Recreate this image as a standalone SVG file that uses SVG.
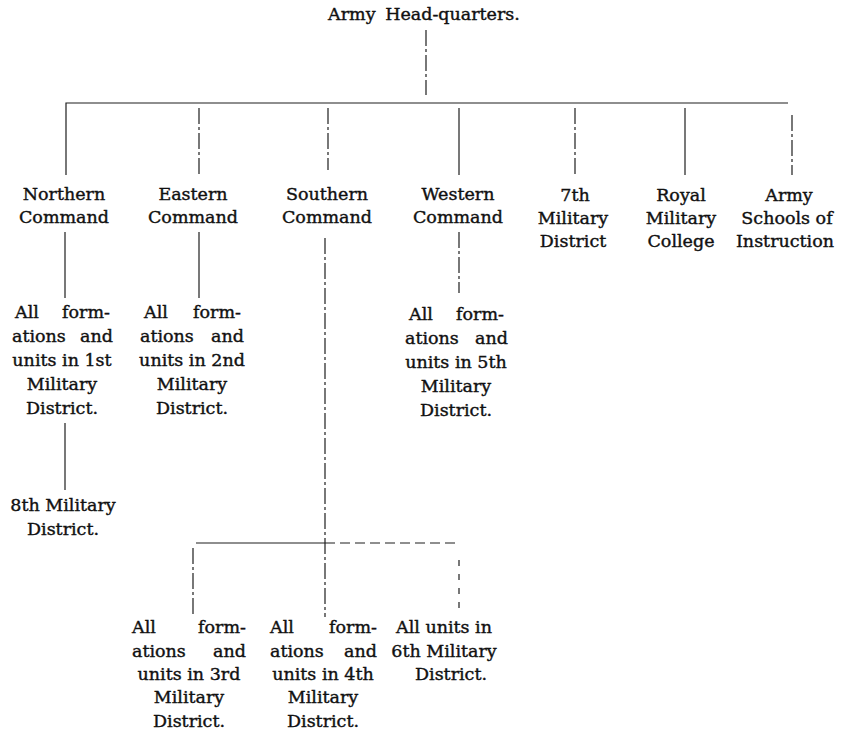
<svg xmlns="http://www.w3.org/2000/svg" width="845" height="735" viewBox="0 0 845 735">
<style>
text{font-family:"DejaVu Serif","Liberation Serif",serif;font-size:17.5px;fill:#111;stroke:#111;stroke-width:0.4}
.m{text-anchor:middle}
.e{text-anchor:end}
.c{stroke:#1e1e1e;stroke-width:1.2;fill:none}
.d{stroke-dasharray:16 3 3 3}
</style>
<rect width="845" height="735" fill="#fff"/>
<g id="connectors">
<path class="c d" d="M426 30V95"/>
<path class="c" d="M66 175V103H788"/>
<path class="c d" d="M199 108V175"/>
<path class="c d" d="M328 108V170"/>
<path class="c" d="M459 108V175"/>
<path class="c d" d="M575 108V175"/>
<path class="c" d="M685 108V175"/>
<path class="c d" d="M792 115V175"/>
<path class="c" d="M65 232V298"/>
<path class="c" d="M199 232V298"/>
<path class="c d" d="M459 232V293"/>
<path class="c" d="M65 423V490"/>
<path class="c d" d="M325 238V617"/>
<path class="c" d="M196 543H325"/>
<path class="c" d="M325 543H455" stroke-dasharray="10 5"/>
<path class="c d" d="M193 548V615"/>
<path class="c" d="M459 560V613" stroke-dasharray="6 8"/>
</g>
<g id="hq"><text class="m" x="424" y="20" word-spacing="4">Army Head-quarters.</text></g>
<g id="northern"><text class="m" x="64" y="200">Northern</text><text class="m" x="64" y="223">Command</text></g>
<g id="eastern"><text class="m" x="193" y="200">Eastern</text><text class="m" x="193" y="223">Command</text></g>
<g id="southern"><text class="m" x="327" y="200">Southern</text><text class="m" x="327" y="223">Command</text></g>
<g id="western"><text class="m" x="458" y="200">Western</text><text class="m" x="458" y="223">Command</text></g>
<g id="district7"><text class="m" x="575" y="201">7th</text><text class="m" x="573" y="224">Military</text><text class="m" x="573" y="247">District</text></g>
<g id="rmc"><text class="m" x="681" y="201">Royal</text><text class="m" x="681" y="224">Military</text><text class="m" x="681" y="247">College</text></g>
<g id="schools"><text class="m" x="789" y="201">Army</text><text class="m" x="787" y="224">Schools of</text><text class="m" x="785" y="247">Instruction</text></g>
<g id="md1"><text x="15" y="318">All</text><text class="e" x="110" y="318">form-</text><text x="12" y="342">ations</text><text class="e" x="113" y="342">and</text><text class="m" x="62" y="366">units in 1st</text><text class="m" x="62" y="390">Military</text><text class="m" x="62" y="414">District.</text></g>
<g id="md2"><text x="144" y="318">All</text><text class="e" x="241" y="318">form-</text><text x="140" y="342">ations</text><text class="e" x="244" y="342">and</text><text class="m" x="192" y="366">units in 2nd</text><text class="m" x="192" y="390">Military</text><text class="m" x="192" y="414">District.</text></g>
<g id="md5"><text x="409" y="320">All</text><text class="e" x="504" y="320">form-</text><text x="405" y="344">ations</text><text class="e" x="508" y="344">and</text><text class="m" x="456" y="368">units in 5th</text><text class="m" x="456" y="392">Military</text><text class="m" x="456" y="416">District.</text></g>
<g id="md8"><text class="m" x="63" y="511">8th Military</text><text class="m" x="63" y="535">District.</text></g>
<g id="md3"><text x="132" y="633">All</text><text class="e" x="246" y="633">form-</text><text x="132" y="657">ations</text><text class="e" x="246" y="657">and</text><text class="m" x="189" y="680">units in 3rd</text><text class="m" x="189" y="703">Military</text><text class="m" x="189" y="727">District.</text></g>
<g id="md4"><text x="270" y="633">All</text><text class="e" x="377" y="633">form-</text><text x="270" y="657">ations</text><text class="e" x="377" y="657">and</text><text class="m" x="323" y="680">units in 4th</text><text class="m" x="323" y="703">Military</text><text class="m" x="323" y="727">District.</text></g>
<g id="md6"><text class="m" x="444" y="633">All units in</text><text class="m" x="444" y="657">6th Military</text><text class="m" x="451" y="680">District.</text></g>
</svg>
